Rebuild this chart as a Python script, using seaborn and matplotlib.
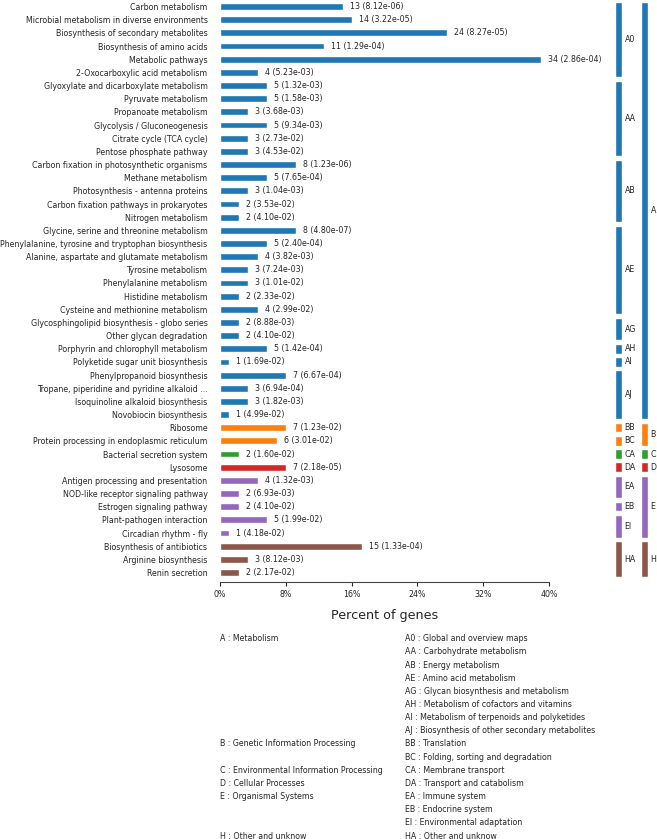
import numpy as np
import pandas as pd
import matplotlib.pyplot as plt
import matplotlib.transforms as mtransforms
import seaborn as sns

# pathway data, top to bottom
pathways = [
    "Carbon metabolism", "Microbial metabolism in diverse environments",
    "Biosynthesis of secondary metabolites", "Biosynthesis of amino acids",
    "Metabolic pathways", "2-Oxocarboxylic acid metabolism",
    "Glyoxylate and dicarboxylate metabolism", "Pyruvate metabolism",
    "Propanoate metabolism", "Glycolysis / Gluconeogenesis",
    "Citrate cycle (TCA cycle)", "Pentose phosphate pathway",
    "Carbon fixation in photosynthetic organisms", "Methane metabolism",
    "Photosynthesis - antenna proteins", "Carbon fixation pathways in prokaryotes",
    "Nitrogen metabolism", "Glycine, serine and threonine metabolism",
    "Phenylalanine, tyrosine and tryptophan biosynthesis",
    "Alanine, aspartate and glutamate metabolism", "Tyrosine metabolism",
    "Phenylalanine metabolism", "Histidine metabolism",
    "Cysteine and methionine metabolism",
    "Glycosphingolipid biosynthesis - globo series", "Other glycan degradation",
    "Porphyrin and chlorophyll metabolism", "Polyketide sugar unit biosynthesis",
    "Phenylpropanoid biosynthesis", "Tropane, piperidine and pyridine alkaloid ...",
    "Isoquinoline alkaloid biosynthesis", "Novobiocin biosynthesis",
    "Ribosome", "Protein processing in endoplasmic reticulum",
    "Bacterial secretion system", "Lysosome",
    "Antigen processing and presentation", "NOD-like receptor signaling pathway",
    "Estrogen signaling pathway", "Plant-pathogen interaction",
    "Circadian rhythm - fly", "Biosynthesis of antibiotics",
    "Arginine biosynthesis", "Renin secretion",
]
gene_counts = [13, 14, 24, 11, 34, 4, 5, 5, 3, 5, 3, 3, 8, 5, 3, 2, 2, 8, 5, 4, 3, 3,
               2, 4, 2, 2, 5, 1, 7, 3, 3, 1, 7, 6, 2, 7, 4, 2, 2, 5, 1, 15, 3, 2]
p_values = ["8.12e-06", "3.22e-05", "8.27e-05", "1.29e-04", "2.86e-04", "5.23e-03",
            "1.32e-03", "1.58e-03", "3.68e-03", "9.34e-03", "2.73e-02", "4.53e-02",
            "1.23e-06", "7.65e-04", "1.04e-03", "3.53e-02", "4.10e-02", "4.80e-07",
            "2.40e-04", "3.82e-03", "7.24e-03", "1.01e-02", "2.33e-02", "2.99e-02",
            "8.88e-03", "4.10e-02", "1.42e-04", "1.69e-02", "6.67e-04", "6.94e-04",
            "1.82e-03", "4.99e-02", "1.23e-02", "3.01e-02", "1.60e-02", "2.18e-05",
            "1.32e-03", "6.93e-03", "4.10e-02", "1.99e-02", "4.18e-02", "1.33e-04",
            "8.12e-03", "2.17e-02"]
total_genes = 87

# KEGG classes
level2_codes = ["A0", "AA", "AB", "AE", "AG", "AH", "AI", "AJ",
                "BB", "BC", "CA", "DA", "EA", "EB", "EI", "HA"]
level2_sizes = [6, 6, 5, 7, 2, 1, 1, 4, 1, 1, 1, 1, 2, 1, 2, 3]
level2_names = ["Global and overview maps", "Carbohydrate metabolism",
                "Energy metabolism", "Amino acid metabolism",
                "Glycan biosynthesis and metabolism",
                "Metabolism of cofactors and vitamins",
                "Metabolism of terpenoids and polyketides",
                "Biosynthesis of other secondary metabolites",
                "Translation", "Folding, sorting and degradation",
                "Membrane transport", "Transport and catabolism",
                "Immune system", "Endocrine system",
                "Environmental adaptation", "Other and unknow"]
level1_codes = ["A", "B", "C", "D", "E", "H"]
level1_names = ["Metabolism", "Genetic Information Processing",
                "Environmental Information Processing", "Cellular Processes",
                "Organismal Systems", "Other and unknow"]
level1_colors = ["#1f77b4", "#ff7f0e", "#2ca02c", "#d62728", "#9467bd", "#8c564b"]

lvl2 = np.repeat(level2_codes, level2_sizes)
df = pd.DataFrame({
    "pathway": pathways,
    "count": gene_counts,
    "p": p_values,
    "level2": lvl2,
    "level1": [c[0] for c in lvl2],
})
df["percent"] = df["count"] / total_genes * 100
n = len(df)

W, H = 657, 839
fig = plt.figure(figsize=(W / 100, H / 100), dpi=100)
sns.set_style("ticks")
plt.rcParams["font.family"] = ["DejaVu Sans"]
fs = 5.7

# main bar chart
ax = fig.add_axes([220 / W, 1 - 582 / H, 329 / W, 582 / H])
palette = dict(zip(level1_codes, level1_colors))
sns.barplot(data=df, x="percent", y="pathway", hue="level1", palette=palette,
            order=pathways, hue_order=level1_codes, dodge=False, saturation=1,
            width=0.52, legend=False, ax=ax)
ax.set_ylim(n - 0.5 + 0.22, -0.5)
ax.set_xlim(0, 40)
ax.set_xticks(np.arange(0, 41, 8))
ax.set_xticklabels([f"{t}%" for t in range(0, 41, 8)])
ax.set_ylabel("")
ax.set_xlabel("Percent of genes", fontsize=9.2, labelpad=7)
ax.tick_params(axis="y", length=0, pad=9, labelsize=fs)
ax.tick_params(axis="x", length=3, width=0.8, labelsize=fs, pad=3)
sns.despine(ax=ax, left=True)
ax.spines["bottom"].set_linewidth(0.8)
ax.spines["bottom"].set_color("#444444")

for i, row in df.iterrows():
    ax.annotate(f"{row['count']} ({row['p']})", (row["percent"], i),
                xytext=(5, 0), textcoords="offset points",
                va="center", ha="left", fontsize=fs)

# class brackets on the right
bax = fig.add_axes([605 / W, 1 - 582 / H, 52 / W, 582 / H], sharey=ax)
bax.set_xlim(605, 657)
bax.axis("off")


def runs(labels):
    out = []
    start = 0
    for i in range(1, len(labels) + 1):
        if i == len(labels) or labels[i] != labels[start]:
            out.append((labels[start], start, i - 1))
            start = i
    return out


for code, s, e in runs(list(df["level2"])):
    bax.bar(618.3, e - s + 0.72, bottom=s - 0.36, width=6.7,
            color=palette[code[0]], clip_on=False)
    bax.text(624.5, (s + e) / 2, code, va="center", ha="left", fontsize=fs)

for code, s, e in runs(list(df["level1"])):
    bax.bar(644.5, e - s + 0.72, bottom=s - 0.36, width=6.7,
            color=palette[code], clip_on=False)
    bax.text(650.5, (s + e) / 2, code, va="center", ha="left", fontsize=fs)

# class legend text below the chart
tr = mtransforms.blended_transform_factory(fig.transFigure, ax.transData)
row0 = n - 0.5 + 0.22 + (638.7 - 582) / 13.16
seen = set()
for r, (code, name) in enumerate(zip(level2_codes, level2_names)):
    y = row0 + r
    ax.text(404.7 / W, y, f"{code} : {name}", transform=tr, fontsize=fs,
            va="center", ha="left", clip_on=False)
    top = code[0]
    if top not in seen:
        seen.add(top)
        name1 = level1_names[level1_codes.index(top)]
        ax.text(220 / W, y, f"{top} : {name1}", transform=tr, fontsize=fs,
                va="center", ha="left", clip_on=False)

fig.savefig("out.png", dpi=100)
